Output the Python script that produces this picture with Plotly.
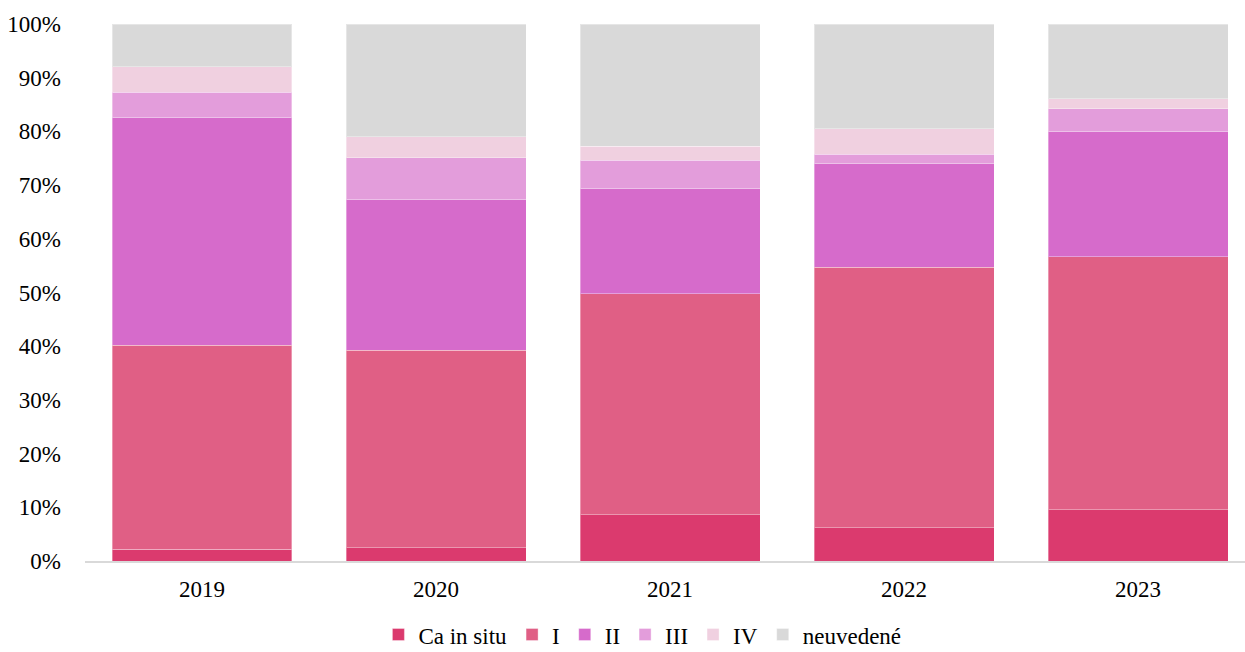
import plotly.graph_objects as go

years = ["2019", "2020", "2021", "2022", "2023"]
ca_in_situ = [2.2, 2.5, 8.65, 6.2, 9.5]
stage_i = [38.0, 36.75, 41.1, 48.5, 47.2]
stage_ii = [42.4, 28.15, 19.65, 19.4, 23.3]
stage_iii = [4.7, 7.7, 5.2, 1.6, 4.2]
stage_iv = [4.7, 3.9, 2.6, 4.8, 1.9]
neuvedene = [8.0, 21.0, 22.8, 19.5, 13.9]
y_ticks = [0, 10, 20, 30, 40, 50, 60, 70, 80, 90, 100]
y_tick_labels = [f"{v}%" for v in y_ticks]

series = [
    ("Ca in situ", ca_in_situ, "#DB3A6E"),
    ("I", stage_i, "#E05F85"),
    ("II", stage_ii, "#D66BCB"),
    ("III", stage_iii, "#E39DDB"),
    ("IV", stage_iv, "#F0D0E0"),
    ("neuvedené", neuvedene, "#D9D9D9"),
]

fig = go.Figure()
for name, vals, color in series:
    fig.add_trace(go.Bar(
        x=years, y=vals, name=name,
        marker=dict(color=color, line=dict(color="rgba(255,255,255,0.35)", width=1)),
    ))

font = dict(family="Liberation Serif, Times New Roman, serif", size=23, color="#000000")

fig.update_layout(
    barmode="stack",
    bargap=0.231,
    width=1245, height=652,
    margin=dict(l=85, r=0, t=24, b=91, autoexpand=False),
    paper_bgcolor="white", plot_bgcolor="white",
    font=font,
    showlegend=True,
    legend=dict(
        orientation="h", xref="container", yref="paper",
        x=0.516, xanchor="center", y=-0.137, yanchor="middle",
        font=font, traceorder="normal", itemwidth=30,
        bgcolor="rgba(0,0,0,0)",
    ),
    xaxis=dict(
        type="category", range=[-0.5, 4.457],
        showline=True, linecolor="#D9D9D9", linewidth=1.5,
        showgrid=False, ticks="", ticklabelstandoff=7,
        tickfont=font,
    ),
    yaxis=dict(
        range=[0, 100], tickmode="array", tickvals=y_ticks, ticktext=y_tick_labels,
        showgrid=False, zeroline=False, showline=False,
        ticks="", ticklabelstandoff=23, tickfont=font,
    ),
)

fig.write_html(
    "out.html",
    config={"displayModeBar": False},
    post_script="document.body.style.margin='0px';document.body.style.padding='0px';",
)
